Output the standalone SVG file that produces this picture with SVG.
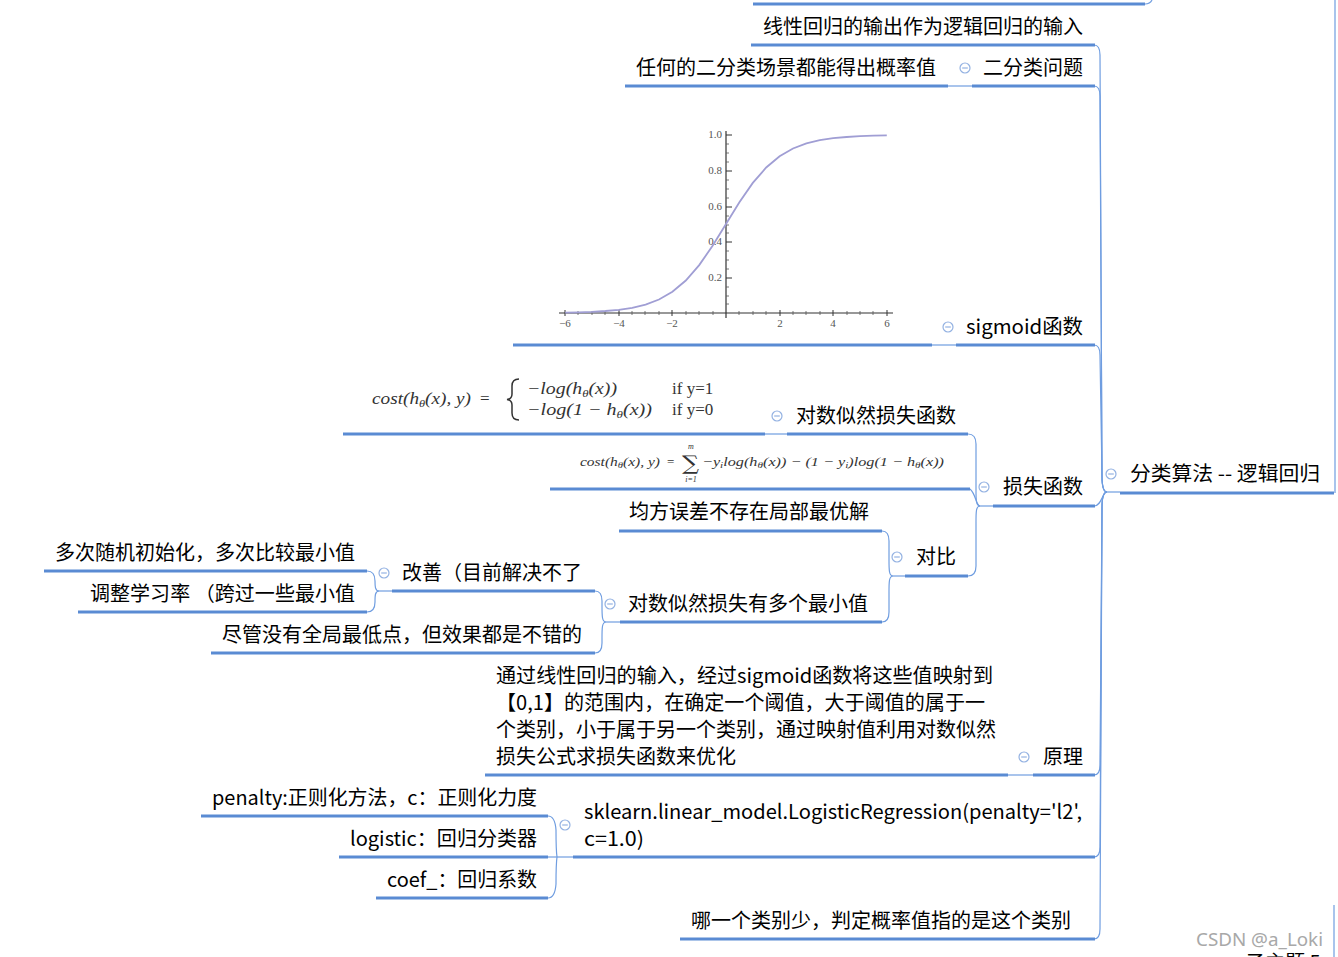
<svg xmlns="http://www.w3.org/2000/svg" width="1338" height="957" viewBox="0 0 1338 957">
<style>
.t{font-family:"Noto Sans CJK SC","Noto Sans",sans-serif;font-size:20px;fill:#000}
.u{stroke:#5a8bd3;stroke-width:3;fill:none;stroke-linecap:butt}
.c{stroke:#6f9de0;stroke-width:1.2;fill:none}
.cb circle{fill:#fff;stroke:#94b2e2;stroke-width:1.2}
.cb line{stroke:#94b2e2;stroke-width:1.2}
.f{font-family:"Liberation Serif",serif;font-style:italic;fill:#333}
.fr{font-family:"Liberation Serif",serif;fill:#333}
.ax{font-family:"Liberation Serif",serif;font-size:11px;fill:#555}
</style>
<defs>
<g id="cbtn" class="cb"><circle r="5"/><line x1="-2.8" y1="0" x2="2.8" y2="0"/></g>
</defs>
<rect width="1338" height="957" fill="#fff"/>

<g id="connectors">
<path class="c" d="M1145,4 Q1150,4 1152,0"/>
<line class="c" x1="1335" y1="0" x2="1335" y2="493"/>
<line class="c" x1="1334" y1="905" x2="1334" y2="957"/>
<line class="c" x1="1107" y1="492" x2="1120" y2="492"/>
<path class="c" d="M1107,492 C1103,492 1102,486 1102,476 L1100,55 Q1100,45 1094,45"/>
<path class="c" d="M1107,492 C1103,492 1102,486 1102,476 L1100,96 Q1100,86 1094,86"/>
<path class="c" d="M1107,492 C1103,492 1102,486 1102,476 L1100,355 Q1100,345 1094,345"/>
<path class="c" d="M1107,492 C1102,492 1102,506 1094,506"/>
<path class="c" d="M1107,492 C1103,492 1102,498 1102,508 L1100,765 Q1100,775 1094,775"/>
<path class="c" d="M1107,492 C1103,492 1102,498 1102,508 L1100,847 Q1100,857 1094,857"/>
<path class="c" d="M1107,492 C1103,492 1102,498 1102,508 L1100,929 Q1100,939 1094,939"/>
<line class="c" x1="948" y1="86" x2="972" y2="86"/>
<line class="c" x1="932" y1="345" x2="956" y2="345"/>
<line class="c" x1="765" y1="434" x2="787" y2="434"/>
<line class="c" x1="1008" y1="775" x2="1033" y2="775"/>
<line class="c" x1="548" y1="857" x2="573" y2="857"/>
<line class="c" x1="980" y1="506" x2="993" y2="506"/>
<path class="c" d="M980,506 C976,506 976,500 976,490 L976,444 Q976,434 968,434"/>
<path class="c" d="M980,506 C976,506 976,494 970,489"/>
<path class="c" d="M980,506 C976,506 976,512 976,522 L976,566 Q976,576 968,576"/>
<line class="c" x1="893" y1="576" x2="905" y2="576"/>
<path class="c" d="M893,576 C889,576 889,570 889,560 L889,541 Q889,531 882,531"/>
<path class="c" d="M893,576 C889,576 889,582 889,592 L889,612 Q889,622 882,622"/>
<line class="c" x1="606" y1="622" x2="620" y2="622"/>
<path class="c" d="M606,622 C602,622 602,616 602,606 L602,601 Q602,591 595,591"/>
<path class="c" d="M606,622 C602,622 602,628 602,638 L602,643 Q602,653 595,653"/>
<line class="c" x1="379" y1="591" x2="392" y2="591"/>
<path class="c" d="M379,591 C375,591 375,586 375,581 Q375,571 367,571"/>
<path class="c" d="M379,591 C375,591 375,596 375,602 Q375,612 367,612"/>
<path class="c" d="M557,857 C556,850 556,840 556,830 Q555,816 548,816"/>
<path class="c" d="M557,857 C556,864 556,874 556,884 Q555,898 548,898"/>
</g>

<g id="n_top"><line class="u" x1="753" y1="4" x2="1145" y2="4"/></g>

<g id="root">
<text class="t" x="1130" y="481" textLength="190" lengthAdjust="spacingAndGlyphs">分类算法 -- 逻辑回归</text>
<line class="u" x1="1120" y1="493" x2="1334" y2="493"/>
<use href="#cbtn" x="1111" y="474"/>
</g>

<g id="n_linear">
<text class="t" x="763" y="34">线性回归的输出作为逻辑回归的输入</text>
<line class="u" x1="751" y1="45" x2="1095" y2="45"/>
</g>

<g id="n_binary">
<text class="t" x="983" y="75">二分类问题</text>
<line class="u" x1="972" y1="86" x2="1095" y2="86"/>
<use href="#cbtn" x="965" y="68"/>
</g>
<g id="n_binary_c">
<text class="t" x="636" y="75">任何的二分类场景都能得出概率值</text>
<line class="u" x1="625" y1="86" x2="948" y2="86"/>
</g>

<g id="n_sigmoid">
<text class="t" x="966" y="334" textLength="117" lengthAdjust="spacingAndGlyphs">sigmoid函数</text>
<line class="u" x1="956" y1="345" x2="1095" y2="345"/>
<use href="#cbtn" x="948" y="327"/>
</g>
<g id="n_sigmoid_img">
<line x1="559" y1="313" x2="893" y2="313" stroke="#333" stroke-width="1.2"/>
<line x1="726" y1="131" x2="726" y2="318" stroke="#333" stroke-width="1.2"/>
<g stroke="#333" stroke-width="1">
<line x1="565" y1="310" x2="565" y2="316"/><line x1="619" y1="310" x2="619" y2="316"/><line x1="672" y1="310" x2="672" y2="316"/><line x1="780" y1="310" x2="780" y2="316"/><line x1="833" y1="310" x2="833" y2="316"/><line x1="887" y1="310" x2="887" y2="316"/>
<line x1="726" y1="135" x2="732" y2="135"/><line x1="726" y1="171" x2="732" y2="171"/><line x1="726" y1="207" x2="732" y2="207"/><line x1="726" y1="242" x2="732" y2="242"/><line x1="726" y1="278" x2="732" y2="278"/>
</g>
<g stroke="#555" stroke-width="0.8">
<line x1="578" y1="311" x2="578" y2="315"/><line x1="592" y1="311" x2="592" y2="315"/><line x1="605" y1="311" x2="605" y2="315"/><line x1="632" y1="311" x2="632" y2="315"/><line x1="645" y1="311" x2="645" y2="315"/><line x1="659" y1="311" x2="659" y2="315"/><line x1="686" y1="311" x2="686" y2="315"/><line x1="699" y1="311" x2="699" y2="315"/><line x1="713" y1="311" x2="713" y2="315"/><line x1="739" y1="311" x2="739" y2="315"/><line x1="753" y1="311" x2="753" y2="315"/><line x1="766" y1="311" x2="766" y2="315"/><line x1="793" y1="311" x2="793" y2="315"/><line x1="806" y1="311" x2="806" y2="315"/><line x1="820" y1="311" x2="820" y2="315"/><line x1="847" y1="311" x2="847" y2="315"/><line x1="860" y1="311" x2="860" y2="315"/><line x1="873" y1="311" x2="873" y2="315"/>
<line x1="726" y1="144" x2="729" y2="144"/><line x1="726" y1="153" x2="729" y2="153"/><line x1="726" y1="162" x2="729" y2="162"/><line x1="726" y1="180" x2="729" y2="180"/><line x1="726" y1="189" x2="729" y2="189"/><line x1="726" y1="198" x2="729" y2="198"/><line x1="726" y1="216" x2="729" y2="216"/><line x1="726" y1="225" x2="729" y2="225"/><line x1="726" y1="233" x2="729" y2="233"/><line x1="726" y1="251" x2="729" y2="251"/><line x1="726" y1="260" x2="729" y2="260"/><line x1="726" y1="269" x2="729" y2="269"/><line x1="726" y1="287" x2="729" y2="287"/><line x1="726" y1="296" x2="729" y2="296"/><line x1="726" y1="304" x2="729" y2="304"/>
</g>
<text class="ax" x="722" y="138" text-anchor="end">1.0</text>
<text class="ax" x="722" y="174" text-anchor="end">0.8</text>
<text class="ax" x="722" y="210" text-anchor="end">0.6</text>
<text class="ax" x="722" y="245" text-anchor="end">0.4</text>
<text class="ax" x="722" y="281" text-anchor="end">0.2</text>
<text class="ax" x="565" y="327" text-anchor="middle">−6</text>
<text class="ax" x="619" y="327" text-anchor="middle">−4</text>
<text class="ax" x="672" y="327" text-anchor="middle">−2</text>
<text class="ax" x="780" y="327" text-anchor="middle">2</text>
<text class="ax" x="833" y="327" text-anchor="middle">4</text>
<text class="ax" x="887" y="327" text-anchor="middle">6</text>
<polyline fill="none" stroke="#a09ed4" stroke-width="1.8" points="565.2,312.6 578.6,312.3 592,311.8 605.4,311 618.8,309.8 632.2,307.8 645.6,304.6 659,299.5 672.4,291.8 685.8,280.5 699.2,265.1 712.6,245.8 726,224 739.4,202.2 752.8,182.9 766.2,167.5 779.6,156.2 793,148.5 806.4,143.4 819.8,140.2 833.2,138.2 846.6,137 860,136.2 873.4,135.7 886.8,135.4"/>
<line class="u" x1="513" y1="345" x2="932" y2="345"/>
</g>

<g id="n_loss">
<text class="t" x="1003" y="494">损失函数</text>
<line class="u" x1="993" y1="506" x2="1095" y2="506"/>
<use href="#cbtn" x="984" y="487"/>
</g>

<g id="n_loglik">
<text class="t" x="796" y="423">对数似然损失函数</text>
<line class="u" x1="787" y1="434" x2="968" y2="434"/>
<use href="#cbtn" x="777" y="416"/>
</g>
<g id="n_formula1">
<text class="f" x="372" y="404" font-size="17" textLength="99" lengthAdjust="spacingAndGlyphs">cost(h<tspan font-size="11" dy="3">θ</tspan><tspan dy="-3">(x), y)</tspan></text>
<text class="fr" x="480" y="404" font-size="17">=</text>
<path d="M519,379 Q512,379 512,386 L512,394 Q512,399 507,399.5 Q512,400 512,405 L512,413 Q512,420 519,420" fill="none" stroke="#333" stroke-width="1.5"/>
<text class="f" x="527" y="394" font-size="17" textLength="90" lengthAdjust="spacingAndGlyphs">−log(h<tspan font-size="11" dy="3">θ</tspan><tspan dy="-3">(x))</tspan></text>
<text class="f" x="527" y="415" font-size="17" textLength="125" lengthAdjust="spacingAndGlyphs">−log(1 − h<tspan font-size="11" dy="3">θ</tspan><tspan dy="-3">(x))</tspan></text>
<text class="fr" x="672" y="394" font-size="17">if y=1</text>
<text class="fr" x="672" y="415" font-size="17">if y=0</text>
<line class="u" x1="343" y1="434" x2="765" y2="434"/>
</g>
<g id="n_formula2">
<text class="f" x="580" y="466" font-size="13" textLength="80" lengthAdjust="spacingAndGlyphs">cost(h<tspan font-size="9" dy="2">θ</tspan><tspan dy="-2">(x), y)</tspan></text>
<text class="fr" x="667" y="466" font-size="13">=</text>
<text x="682" y="470" font-family="DejaVu Serif, serif" font-size="20" fill="#333" textLength="17" lengthAdjust="spacingAndGlyphs">∑</text>
<text class="f" x="691" y="449" font-size="8" text-anchor="middle">m</text>
<text class="f" x="691" y="482" font-size="8" text-anchor="middle">i=1</text>
<text class="f" x="702" y="466" font-size="13" textLength="242" lengthAdjust="spacingAndGlyphs">−y<tspan font-size="9" dy="2">i</tspan><tspan dy="-2">log(h</tspan><tspan font-size="9" dy="2">θ</tspan><tspan dy="-2">(x)) − (1 − y</tspan><tspan font-size="9" dy="2">i</tspan><tspan dy="-2">)log(1 − h</tspan><tspan font-size="9" dy="2">θ</tspan><tspan dy="-2">(x))</tspan></text>
<line class="u" x1="550" y1="489" x2="970" y2="489"/>
</g>

<g id="n_compare">
<text class="t" x="916" y="564">对比</text>
<line class="u" x1="905" y1="576" x2="968" y2="576"/>
<use href="#cbtn" x="897" y="557"/>
</g>
<g id="n_mse">
<text class="t" x="629" y="519">均方误差不存在局部最优解</text>
<line class="u" x1="619" y1="531" x2="882" y2="531"/>
</g>
<g id="n_minima">
<text class="t" x="628" y="611">对数似然损失有多个最小值</text>
<line class="u" x1="620" y1="622" x2="882" y2="622"/>
<use href="#cbtn" x="610" y="604"/>
</g>
<g id="n_improve">
<text class="t" x="402" y="580">改善（目前解决不了</text>
<line class="u" x1="392" y1="591" x2="595" y2="591"/>
<use href="#cbtn" x="384" y="573"/>
</g>
<g id="n_random">
<text class="t" x="55" y="560">多次随机初始化，多次比较最小值</text>
<line class="u" x1="44" y1="571" x2="367" y2="571"/>
</g>
<g id="n_lr">
<text class="t" x="90" y="601" textLength="265" lengthAdjust="spacing">调整学习率 （跨过一些最小值</text>
<line class="u" x1="78" y1="612" x2="367" y2="612"/>
</g>
<g id="n_good">
<text class="t" x="222" y="642">尽管没有全局最低点，但效果都是不错的</text>
<line class="u" x1="211" y1="653" x2="595" y2="653"/>
</g>

<g id="n_principle">
<text class="t" x="1043" y="764">原理</text>
<line class="u" x1="1033" y1="775" x2="1095" y2="775"/>
<use href="#cbtn" x="1024" y="757"/>
</g>
<g id="n_principle_c">
<text class="t" x="496" y="683" textLength="497" lengthAdjust="spacingAndGlyphs">通过线性回归的输入，经过sigmoid函数将这些值映射到</text>
<text class="t" x="496" y="710" textLength="489" lengthAdjust="spacingAndGlyphs">【0,1】的范围内，在确定一个阈值，大于阈值的属于一</text>
<text class="t" x="496" y="737">个类别，小于属于另一个类别，通过映射值利用对数似然</text>
<text class="t" x="496" y="764">损失公式求损失函数来优化</text>
<line class="u" x1="485" y1="775" x2="1008" y2="775"/>
</g>

<g id="n_sklearn">
<text class="t" x="584" y="819" textLength="498" lengthAdjust="spacingAndGlyphs">sklearn.linear_model.LogisticRegression(penalty='l2',</text>
<text class="t" x="584" y="846" textLength="60" lengthAdjust="spacingAndGlyphs">c=1.0)</text>
<line class="u" x1="573" y1="857" x2="1095" y2="857"/>
<use href="#cbtn" x="565" y="825"/>
</g>
<g id="n_penalty">
<text class="t" x="212" y="805" textLength="325" lengthAdjust="spacingAndGlyphs">penalty:正则化方法，c：正则化力度</text>
<line class="u" x1="201" y1="816" x2="548" y2="816"/>
</g>
<g id="n_logistic">
<text class="t" x="350" y="846" textLength="187" lengthAdjust="spacingAndGlyphs">logistic：回归分类器</text>
<line class="u" x1="339" y1="857" x2="548" y2="857"/>
</g>
<g id="n_coef">
<text class="t" x="387" y="887" textLength="150" lengthAdjust="spacingAndGlyphs">coef_：回归系数</text>
<line class="u" x1="376" y1="898" x2="548" y2="898"/>
</g>

<g id="n_minority">
<text class="t" x="691" y="928">哪一个类别少，判定概率值指的是这个类别</text>
<line class="u" x1="680" y1="939" x2="1095" y2="939"/>
</g>

<g id="n_sub5">
<text class="t" x="1245" y="970">子主题 5</text>
</g>
<text x="1196" y="946" font-family="Noto Sans, sans-serif" font-size="18" fill="#a8a8a8" textLength="127" lengthAdjust="spacingAndGlyphs">CSDN @a_Loki</text>
</svg>
